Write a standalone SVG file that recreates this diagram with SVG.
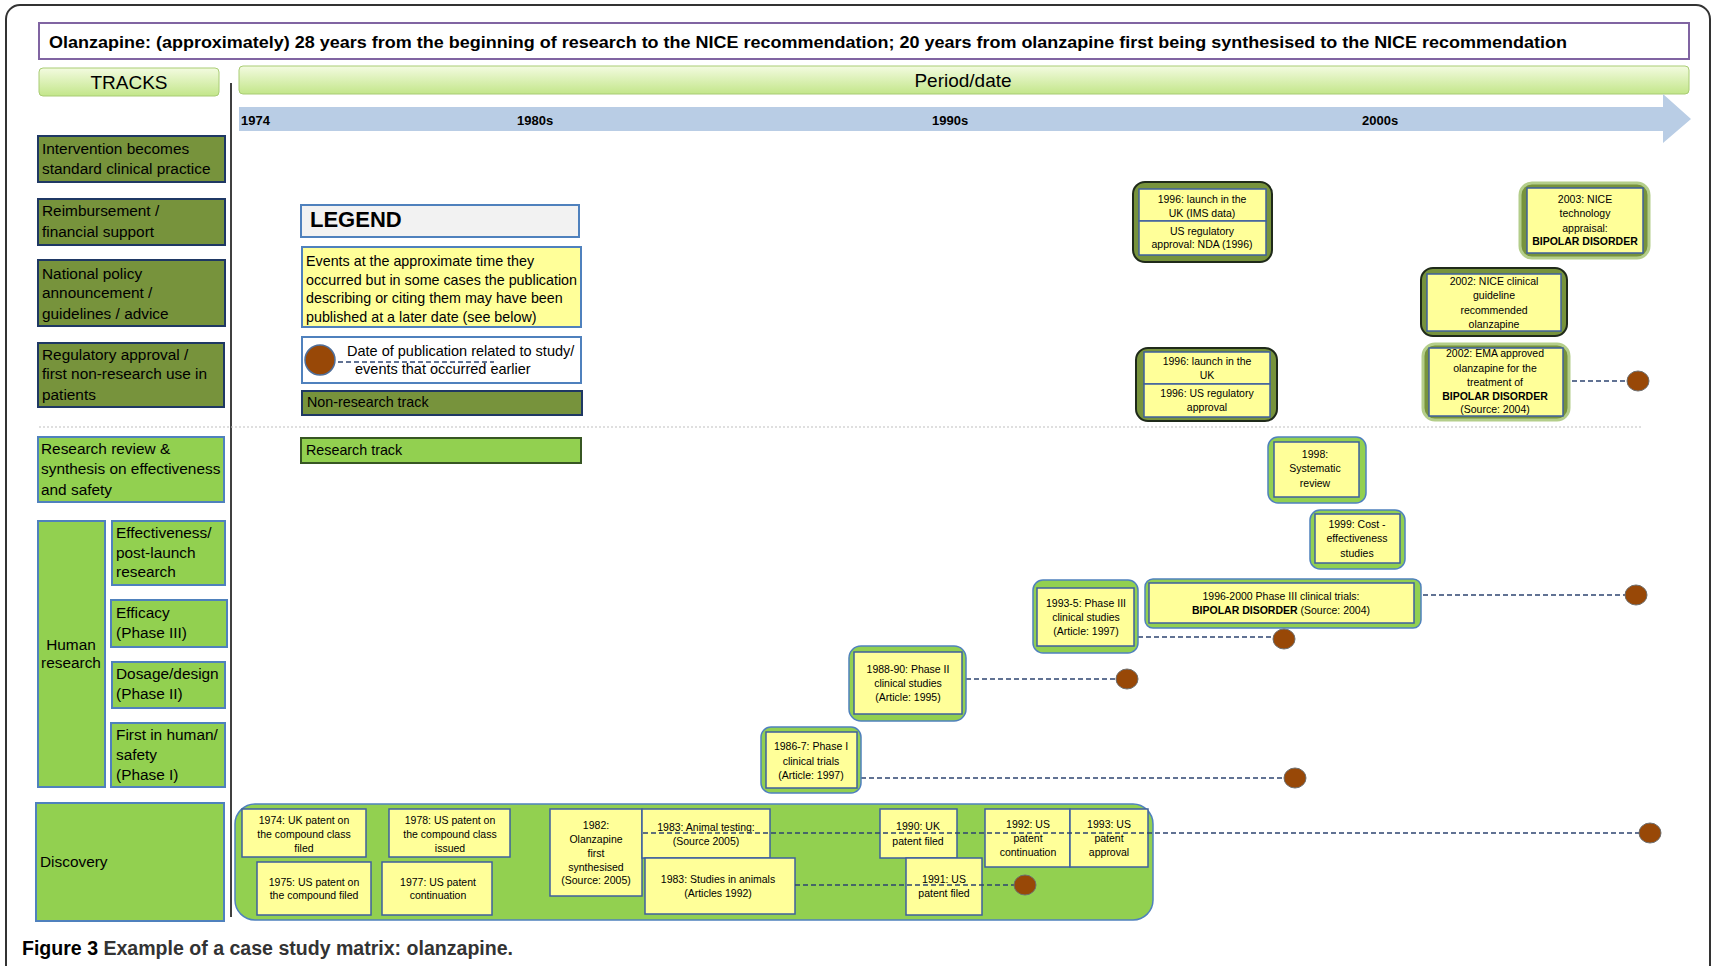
<svg xmlns="http://www.w3.org/2000/svg" width="1716" height="966" viewBox="0 0 1716 966">
<defs>
<linearGradient id="hdr" x1="0" y1="0" x2="0" y2="1">
<stop offset="0" stop-color="#F3FBE0"/>
<stop offset="1" stop-color="#C3E68A"/>
</linearGradient>
<style>
text{font-family:"Liberation Sans",Arial,sans-serif;fill:#000}
.trk{font-size:15.4px}
.lg{font-size:14.3px}
.nr{fill:#77933C;stroke:#1F3864;stroke-width:2}
.rs{fill:#92D050;stroke:#4F81BD;stroke-width:2}
.yel{fill:#FFFF99;stroke:#3E5F9E;stroke-width:1.5}
.ndo{fill:#77933C;stroke:#1F2A1A;stroke-width:2}
.ndg{fill:#77933C;stroke:#B4CE8A;stroke-width:3}
.rso{fill:#92D050;stroke:#4F81BD;stroke-width:1.5}
.n{font-size:10.5px;text-anchor:middle}
.b{font-weight:bold}
.yr{font-size:13px;font-weight:bold}
.dash{stroke:#2E4470;stroke-width:1.6;stroke-dasharray:5 3;fill:none}
.dot{fill:#984807;stroke:#6E6E6E;stroke-width:1}
</style>
</defs>
<rect width="1716" height="966" fill="#FFFFFF"/>
<rect x="6" y="5" width="1704" height="1010" rx="14" fill="none" stroke="#333333" stroke-width="2"/>

<g id="title">
<rect x="39" y="23" width="1650" height="36" fill="#FFFFFF" stroke="#8064A2" stroke-width="2"/>
<text x="49" y="48" font-size="17" font-weight="bold" textLength="1518" lengthAdjust="spacingAndGlyphs">Olanzapine: (approximately) 28 years from the beginning of research to the NICE recommendation; 20 years from olanzapine first being synthesised to the NICE recommendation</text>
</g>

<g id="tracks-header">
<rect x="39" y="68" width="180" height="28" rx="4" fill="url(#hdr)" stroke="#A9CC74" stroke-width="1"/>
<text x="129" y="89" font-size="19" text-anchor="middle">TRACKS</text>
</g>
<g id="period-header">
<rect x="239" y="66" width="1450" height="28" rx="4" fill="url(#hdr)" stroke="#A9CC74" stroke-width="1"/>
<text x="963" y="87" font-size="19" text-anchor="middle">Period/date</text>
</g>

<g id="timeline">
<polygon points="239,107 1663,107 1663,94 1691,119 1663,143 1663,131 239,131" fill="#B9CDE5"/>
<text class="yr" x="241" y="125">1974</text>
<text class="yr" x="517" y="125">1980s</text>
<text class="yr" x="932" y="125">1990s</text>
<text class="yr" x="1362" y="125">2000s</text>
</g>

<line x1="231" y1="83" x2="231" y2="917" stroke="#000" stroke-width="1.5"/>
<line x1="39" y1="427" x2="1642" y2="427" stroke="#BFBFBF" stroke-width="1" stroke-dasharray="2 2"/>

<g id="track-intervention">
<rect class="nr" x="38" y="136" width="187" height="46"/>
<text class="trk" x="42" y="154">Intervention becomes</text>
<text class="trk" x="42" y="174">standard clinical practice</text>
</g>
<g id="track-reimbursement">
<rect class="nr" x="38" y="199" width="187" height="46"/>
<text class="trk" x="42" y="216">Reimbursement /</text>
<text class="trk" x="42" y="237">financial support</text>
</g>
<g id="track-policy">
<rect class="nr" x="38" y="260" width="187" height="66"/>
<text class="trk" x="42" y="279">National policy</text>
<text class="trk" x="42" y="298">announcement /</text>
<text class="trk" x="42" y="319">guidelines / advice</text>
</g>
<g id="track-regulatory">
<rect class="nr" x="38" y="343" width="186" height="64"/>
<text class="trk" x="42" y="360">Regulatory approval /</text>
<text class="trk" x="42" y="379">first non-research use in</text>
<text class="trk" x="42" y="400">patients</text>
</g>
<g id="track-review">
<rect class="rs" x="38" y="437" width="186" height="65"/>
<text class="trk" x="41" y="454">Research review &amp;</text>
<text class="trk" x="41" y="474">synthesis on effectiveness</text>
<text class="trk" x="41" y="495">and safety</text>
</g>
<g id="track-human">
<rect class="rs" x="38" y="521" width="67" height="266"/>
<text class="trk" x="71" y="650" text-anchor="middle">Human</text>
<text class="trk" x="71" y="668" text-anchor="middle">research</text>
</g>
<g id="track-effectiveness">
<rect class="rs" x="112" y="521" width="113" height="64"/>
<text class="trk" x="116" y="538">Effectiveness/</text>
<text class="trk" x="116" y="558">post-launch</text>
<text class="trk" x="116" y="577">research</text>
</g>
<g id="track-efficacy">
<rect class="rs" x="111" y="600" width="116" height="47"/>
<text class="trk" x="116" y="618">Efficacy</text>
<text class="trk" x="116" y="638">(Phase III)</text>
</g>
<g id="track-dosage">
<rect class="rs" x="112" y="662" width="113" height="46"/>
<text class="trk" x="116" y="679">Dosage/design</text>
<text class="trk" x="116" y="699">(Phase II)</text>
</g>
<g id="track-first">
<rect class="rs" x="111" y="723" width="114" height="64"/>
<text class="trk" x="116" y="740">First in human/</text>
<text class="trk" x="116" y="760">safety</text>
<text class="trk" x="116" y="780">(Phase I)</text>
</g>
<g id="track-discovery">
<rect class="rs" x="36" y="803" width="188" height="118"/>
<text class="trk" x="40" y="867">Discovery</text>
</g>

<g id="legend">
<rect x="301" y="205" width="278" height="32" fill="#F2F2F2" stroke="#4F81BD" stroke-width="2"/>
<text x="310" y="227" font-size="22" font-weight="bold">LEGEND</text>
<rect x="302" y="247" width="279" height="80" fill="#FFFF99" stroke="#4F81BD" stroke-width="2"/>
<text class="lg" x="306" y="266">Events at the approximate time they</text>
<text class="lg" x="306" y="285">occurred but in some cases the publication</text>
<text class="lg" x="306" y="303">describing or citing them may have been</text>
<text class="lg" x="306" y="322">published at a later date (see below)</text>
<rect x="302" y="337" width="279" height="46" fill="#FFFFFF" stroke="#4F81BD" stroke-width="2"/>
<line class="dash" x1="338" y1="362" x2="494" y2="362"/>
<ellipse cx="320" cy="360" rx="15" ry="15" fill="#984807" stroke="#4F6E99" stroke-width="1.5"/>
<text x="347" y="356" font-size="14.5">Date of publication related to study/</text>
<text x="355" y="374" font-size="14.5">events that occurred earlier</text>
<rect class="nr" x="302" y="391" width="280" height="24"/>
<text class="lg" x="307" y="407">Non-research track</text>
<rect x="301" y="438" width="280" height="25" fill="#92D050" stroke="#375623" stroke-width="2"/>
<text class="lg" x="306" y="455">Research track</text>
</g>

<g id="connectors">
<line class="dash" x1="1572" y1="381" x2="1628" y2="381"/>
<line class="dash" x1="1423" y1="595" x2="1625" y2="595"/>
<line class="dash" x1="1138" y1="637" x2="1273" y2="637"/>
<line class="dash" x1="966" y1="679" x2="1116" y2="679"/>
<line class="dash" x1="861" y1="778" x2="1284" y2="778"/>
</g>

<g id="node-1996-uk-ims">
<rect class="ndo" x="1133" y="182" width="139" height="80" rx="12"/>
<rect class="yel" x="1139" y="189" width="127" height="32"/>
<rect class="yel" x="1139" y="221" width="127" height="34"/>
<text class="n" x="1202" y="203">1996: launch in the</text>
<text class="n" x="1202" y="217">UK (IMS data)</text>
<text class="n" x="1202" y="235">US regulatory</text>
<text class="n" x="1202" y="248">approval: NDA (1996)</text>
</g>
<g id="node-1996-uk">
<rect class="ndo" x="1136" y="348" width="141" height="73" rx="12"/>
<rect class="yel" x="1144" y="352" width="126" height="32"/>
<rect class="yel" x="1144" y="384" width="126" height="33"/>
<text class="n" x="1207" y="365">1996: launch in the</text>
<text class="n" x="1207" y="379">UK</text>
<text class="n" x="1207" y="397">1996: US regulatory</text>
<text class="n" x="1207" y="411">approval</text>
</g>
<g id="node-2003-nice">
<rect class="ndg" x="1520" y="183" width="129" height="75" rx="12"/>
<rect class="yel" x="1527" y="188" width="116" height="65"/>
<text class="n" x="1585" y="203">2003: NICE</text>
<text class="n" x="1585" y="217">technology</text>
<text class="n" x="1585" y="232">appraisal:</text>
<text class="n b" x="1585" y="245">BIPOLAR DISORDER</text>
</g>
<g id="node-2002-nice">
<rect class="ndo" x="1421" y="268" width="146" height="68" rx="12"/>
<rect class="yel" x="1427" y="274" width="134" height="57"/>
<text class="n" x="1494" y="285">2002: NICE clinical</text>
<text class="n" x="1494" y="299">guideline</text>
<text class="n" x="1494" y="314">recommended</text>
<text class="n" x="1494" y="328">olanzapine</text>
</g>
<g id="node-2002-ema">
<rect class="ndg" x="1423" y="344" width="146" height="76" rx="12"/>
<rect class="yel" x="1429" y="348" width="134" height="68"/>
<text class="n" x="1495" y="357">2002: EMA approved</text>
<text class="n" x="1495" y="372">olanzapine for the</text>
<text class="n" x="1495" y="386">treatment of</text>
<text class="n b" x="1495" y="400">BIPOLAR DISORDER</text>
<text class="n" x="1495" y="413">(Source: 2004)</text>
</g>

<g id="node-1998">
<rect class="rso" x="1268" y="437" width="98" height="66" rx="10"/>
<rect class="yel" x="1274" y="442" width="85" height="55"/>
<text class="n" x="1315" y="458">1998:</text>
<text class="n" x="1315" y="472">Systematic</text>
<text class="n" x="1315" y="487">review</text>
</g>
<g id="node-1999">
<rect class="rso" x="1310" y="510" width="95" height="59" rx="10"/>
<rect class="yel" x="1315" y="514" width="85" height="49"/>
<text class="n" x="1357" y="528">1999: Cost -</text>
<text class="n" x="1357" y="542">effectiveness</text>
<text class="n" x="1357" y="557">studies</text>
</g>
<g id="node-1993-5">
<rect class="rso" x="1033" y="580" width="105" height="73" rx="10"/>
<rect class="yel" x="1037" y="588" width="97" height="58"/>
<text class="n" x="1086" y="607">1993-5: Phase III</text>
<text class="n" x="1086" y="621">clinical studies</text>
<text class="n" x="1086" y="635">(Article: 1997)</text>
</g>
<g id="node-1996-2000">
<rect class="rso" x="1145" y="579" width="276" height="49" rx="8" stroke="#A7D46E"/>
<rect class="yel" x="1149" y="583" width="265" height="40"/>
<text class="n" x="1281" y="600">1996-2000 Phase III clinical trials:</text>
<text class="n" x="1281" y="614"><tspan class="b">BIPOLAR DISORDER</tspan>   (Source: 2004)</text>
</g>
<g id="node-1988-90">
<rect class="rso" x="849" y="646" width="117" height="75" rx="12"/>
<rect class="yel" x="854" y="652" width="108" height="62"/>
<text class="n" x="908" y="673">1988-90: Phase II</text>
<text class="n" x="908" y="687">clinical studies</text>
<text class="n" x="908" y="701">(Article: 1995)</text>
</g>
<g id="node-1986-7">
<rect class="rso" x="761" y="727" width="100" height="66" rx="10"/>
<rect class="yel" x="766" y="732" width="91" height="56"/>
<text class="n" x="811" y="750">1986-7: Phase I</text>
<text class="n" x="811" y="765">clinical trials</text>
<text class="n" x="811" y="779">(Article: 1997)</text>
</g>

<g id="discovery-area">
<rect class="rso" x="235" y="804" width="918" height="116" rx="20"/>
</g>
<g id="node-1974">
<rect class="yel" x="242" y="809" width="124" height="48"/>
<text class="n" x="304" y="824">1974: UK patent on</text>
<text class="n" x="304" y="838">the compound class</text>
<text class="n" x="304" y="852">filed</text>
</g>
<g id="node-1978">
<rect class="yel" x="389" y="809" width="121" height="48"/>
<text class="n" x="450" y="824">1978: US patent on</text>
<text class="n" x="450" y="838">the compound class</text>
<text class="n" x="450" y="852">issued</text>
</g>
<g id="node-1975">
<rect class="yel" x="257" y="862" width="114" height="53"/>
<text class="n" x="314" y="886">1975: US patent on</text>
<text class="n" x="314" y="899">the compound filed</text>
</g>
<g id="node-1977">
<rect class="yel" x="382" y="862" width="110" height="53"/>
<text class="n" x="438" y="886">1977: US patent</text>
<text class="n" x="438" y="899">continuation</text>
</g>
<g id="node-1982">
<rect class="yel" x="550" y="809" width="92" height="87"/>
<text class="n" x="596" y="829">1982:</text>
<text class="n" x="596" y="843">Olanzapine</text>
<text class="n" x="596" y="857">first</text>
<text class="n" x="596" y="871">synthesised</text>
<text class="n" x="596" y="884">(Source: 2005)</text>
</g>
<g id="node-1983-testing">
<rect class="yel" x="642" y="809" width="128" height="49"/>
<text class="n" x="706" y="831">1983: Animal testing:</text>
<text class="n" x="706" y="845">(Source 2005)</text>
</g>
<g id="node-1983-studies">
<rect class="yel" x="645" y="858" width="150" height="56"/>
<text class="n" x="718" y="883">1983: Studies in animals</text>
<text class="n" x="718" y="897">(Articles 1992)</text>
</g>
<g id="node-1990">
<rect class="yel" x="880" y="809" width="77" height="49"/>
<text class="n" x="918" y="830">1990: UK</text>
<text class="n" x="918" y="845">patent filed</text>
</g>
<g id="node-1991">
<rect class="yel" x="906" y="858" width="76" height="57"/>
<text class="n" x="944" y="883">1991: US</text>
<text class="n" x="944" y="897">patent filed</text>
</g>
<g id="node-1992">
<rect class="yel" x="985" y="809" width="85" height="58"/>
<text class="n" x="1028" y="828">1992: US</text>
<text class="n" x="1028" y="842">patent</text>
<text class="n" x="1028" y="856">continuation</text>
</g>
<g id="node-1993">
<rect class="yel" x="1070" y="809" width="78" height="58"/>
<text class="n" x="1109" y="828">1993: US</text>
<text class="n" x="1109" y="842">patent</text>
<text class="n" x="1109" y="856">approval</text>
</g>

<g id="connectors-discovery">
<line class="dash" x1="643" y1="833" x2="1640" y2="833"/>
<line class="dash" x1="795" y1="885" x2="1016" y2="885"/>
</g>
<g id="publication-dots">
<ellipse class="dot" cx="1638" cy="381" rx="11" ry="10"/>
<ellipse class="dot" cx="1636" cy="595" rx="11" ry="10"/>
<ellipse class="dot" cx="1284" cy="639" rx="11" ry="10"/>
<ellipse class="dot" cx="1127" cy="679" rx="11" ry="10"/>
<ellipse class="dot" cx="1295" cy="778" rx="11" ry="10"/>
<ellipse class="dot" cx="1650" cy="833" rx="11" ry="10"/>
<ellipse class="dot" cx="1025" cy="885" rx="11" ry="10"/>
</g>

<g id="caption">
<text x="22" y="955" font-size="20" font-weight="bold" textLength="491" lengthAdjust="spacingAndGlyphs"><tspan fill="#000">Figure 3</tspan><tspan fill="#333"> Example of a case study matrix: olanzapine.</tspan></text>
</g>
</svg>
